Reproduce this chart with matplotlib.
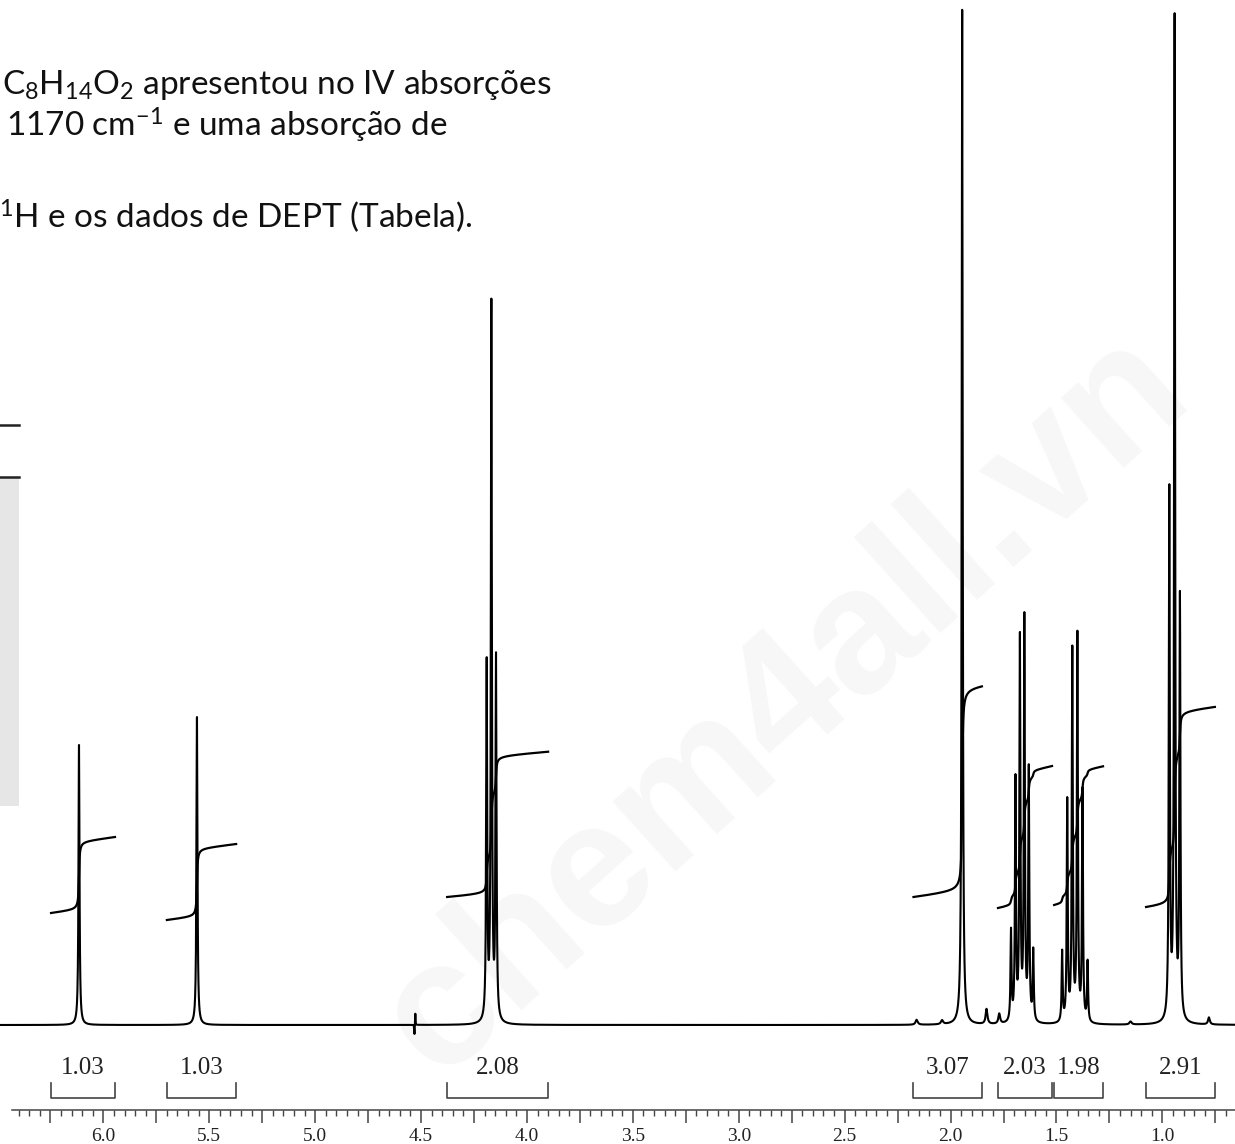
import numpy as np
import matplotlib.pyplot as plt
from matplotlib.ticker import FixedLocator, FuncFormatter

plt.rcParams['mathtext.fontset'] = 'custom'
plt.rcParams['mathtext.rm'] = 'Lato'
plt.rcParams['mathtext.it'] = 'Lato:italic'

# 1H spectrum, peak table (shift in ppm, J in ppm, line heights from low to high ppm)
centers = [6.115, 5.558, 4.168, 1.945, 1.662, 1.413, 0.942]
couplings = [0.0, 0.0, 0.022, 0.0, 0.021, 0.024, 0.025]
line_heights = [
    [280],
    [308],
    [360, 715, 355],
    [1015],
    [70, 250, 400, 380, 240, 90],
    [60, 230, 385, 370, 220, 70],
    [420, 1000, 527],
]
# small impurity / artefact bumps
minor_shifts = [4.527, 4.531, 2.160, 2.040, 1.830, 1.770, 1.150, 0.780]
minor_heights = [12, -10, 5, 4, 15, 10, 3, 7]
minor_widths = [0.0012, 0.0012, 0.006, 0.006, 0.005, 0.005, 0.006, 0.005]

# integration regions
integ_values = [1.03, 1.03, 2.08, 3.07, 2.03, 1.98, 2.91]
integ_left = [6.247, 5.700, 4.377, 2.175, 1.776, 1.511, 1.077]
integ_right = [5.945, 5.373, 3.900, 1.852, 1.521, 1.280, 0.752]
integ_start = [913, 920, 897, 897, 908, 905, 907]

tick_major = np.arange(0.75, 6.26, 0.25)
tick_minor = np.arange(0.70, 6.41, 0.05)

BASE = 1025          # baseline row
INT_SCALE = 66       # rise of the integral trace per proton
HWHM = 0.0028

ppm = np.linspace(0.60, 6.50, 60000)


def lorentz(x0, h, w=HWHM):
    return h * w**2 / ((ppm - x0)**2 + w**2)


spec = np.zeros_like(ppm)
for c, j, hs in zip(centers, couplings, line_heights):
    n = len(hs)
    for k, h in enumerate(hs):
        pos = c + (k - (n - 1) / 2) * j
        spec += lorentz(pos, h)
signal = spec.copy()
for s, h, w in zip(minor_shifts, minor_heights, minor_widths):
    spec += lorentz(s, h, w)

fig = plt.figure(figsize=(12.35, 11.44), dpi=100)

# page layer: text, side panel, watermark
ov = fig.add_axes([0, 0, 1, 1])
ov.set_xlim(0, 1235)
ov.set_ylim(1144, 0)
ov.axis('off')
ov.text(785, 705, 'chem4all.vn', rotation=42, fontsize=128, color='#f7f7f7',
        ha='center', va='center', fontweight='bold', family='Liberation Sans')
ov.add_patch(plt.Rectangle((0, 477), 19, 329, color='#e6e6e6', lw=0))
ov.plot([0, 19], [425, 425], color='#222', lw=1.8)
ov.plot([0, 19], [477, 477], color='#222', lw=1.8)
ov.text(2, 94, r'C$_8$H$_{14}$O$_2$ apresentou no IV absorções', fontsize=24,
        family='Lato', va='baseline', color='#111')
ov.text(6, 137, r'1170 cm$^{-1}$ e uma absorção de', fontsize=24,
        family='Lato', va='baseline', color='#111')
ov.text(-1, 228, r'$^{1}$H e os dados de DEPT (Tabela).', fontsize=24,
        family='Lato', va='baseline', color='#111')

# spectrum layer
ax = fig.add_axes([0, 0, 1, 1])
ax.patch.set_alpha(0)
ax.set_xlim(6.488, 0.657)
ax.set_ylim(1144, 0)
ax.plot(ppm, BASE - spec, color='black', lw=1.5)

# integral traces
for val, hi, lo, y0 in zip(integ_values, integ_left, integ_right, integ_start):
    m = (ppm <= hi) & (ppm >= lo)
    x = ppm[m][::-1]
    cum = np.cumsum(signal[m][::-1])
    cum = cum / cum[-1]
    frac = np.linspace(0, 1, len(x))
    ax.plot(x, y0 - val * INT_SCALE * cum - 8 * frac, color='black', lw=1.6)

# integration brackets and values
for val, hi, lo in zip(integ_values, integ_left, integ_right):
    ax.plot([hi, hi, lo, lo], [1083, 1098, 1098, 1083], color='#444', lw=1.2)
    ax.text((hi + lo) / 2, 1068, f'{val:.2f}', fontsize=18, family='Liberation Serif',
            ha='center', va='center', color='#222')

# ppm axis
for side in ['left', 'right', 'top']:
    ax.spines[side].set_visible(False)
ax.spines['bottom'].set_position(('data', 1110))
ax.spines['bottom'].set_bounds(6.431, 0.657)
ax.spines['bottom'].set_color('#444')
ax.spines['bottom'].set_linewidth(1.1)
ax.yaxis.set_visible(False)
ax.xaxis.set_major_locator(FixedLocator(tick_major))
ax.xaxis.set_minor_locator(FixedLocator(tick_minor))
ax.xaxis.set_major_formatter(FuncFormatter(
    lambda v, p: f'{v:.1f}' if abs(v * 2 - round(v * 2)) < 1e-6 else ''))
ax.tick_params(axis='x', which='major', direction='out', length=9, width=1.1,
               color='#444', pad=4, labelsize=14, labelcolor='#222')
ax.tick_params(axis='x', which='minor', direction='out', length=4, width=1.0, color='#444')
for t in ax.get_xticklabels():
    t.set_family('Liberation Serif')

fig.savefig('out.png', dpi=100)
